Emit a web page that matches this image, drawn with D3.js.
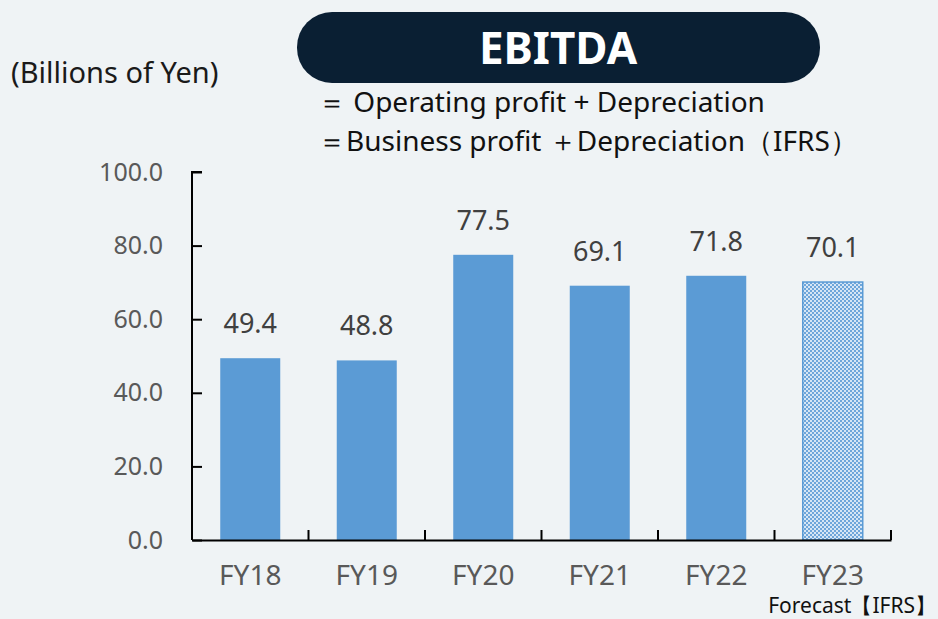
<!DOCTYPE html>
<html><head><meta charset="utf-8">
<script src="https://cdn.jsdelivr.net/npm/d3@7"></script>
<style>body{margin:0;background:#eff3f5;} svg{display:block;font-family:"Noto Sans","Open Sans",sans-serif;}</style>
</head><body>
<svg id="c" width="938" height="619"></svg>
<script>
const categories = ["FY18","FY19","FY20","FY21","FY22","FY23"];
const values = [49.4, 48.8, 77.5, 69.1, 71.8, 70.1];
const forecast = [false,false,false,false,false,true];
const yTicks = [0,20,40,60,80,100];

const svg = d3.select("#c");
svg.append("rect").attr("width",938).attr("height",619).attr("fill","#eff3f5");

const defs = svg.append("defs");
const pat = defs.append("pattern").attr("id","chk").attr("patternUnits","userSpaceOnUse").attr("width",4).attr("height",4);
pat.append("rect").attr("width",4).attr("height",4).attr("fill","#d6e6f5");
pat.append("rect").attr("width",2).attr("height",2).attr("fill","#6ea6da");
pat.append("rect").attr("x",2).attr("y",2).attr("width",2).attr("height",2).attr("fill","#6ea6da");

const x = d3.scaleBand().domain(categories).range([192,891]).paddingInner(0.485).paddingOuter(0.2425);
const y = d3.scaleLinear().domain([0,100]).range([540,172]);

// bars
svg.selectAll("rect.bar").data(categories).enter().append("rect")
  .attr("class","bar")
  .attr("x",d=>x(d)).attr("width",x.bandwidth())
  .attr("y",(d,i)=>y(values[i])).attr("height",(d,i)=>y(0)-y(values[i]))
  .attr("fill",(d,i)=>forecast[i]?"url(#chk)":"#5b9bd5")
  .attr("stroke",(d,i)=>forecast[i]?"#5b9bd5":"none")
  .attr("stroke-width",1.5);

// value labels
svg.selectAll("text.val").data(categories).enter().append("text")
  .attr("x",d=>x(d)+x.bandwidth()/2).attr("y",(d,i)=>y(values[i])-25)
  .attr("text-anchor","middle").attr("font-size",27).attr("fill","#404040")
  .text((d,i)=>values[i].toFixed(1));

// y axis
const ya = svg.append("g").attr("transform","translate(192,0)")
  .call(d3.axisLeft(y).tickValues(yTicks).tickSize(-10).tickPadding(29).tickFormat(d3.format(".1f")));
ya.selectAll(".tick line").attr("stroke","#000").attr("stroke-width",2);
ya.selectAll(".tick text").attr("font-size",25).attr("fill","#595959").attr("font-family","Noto Sans, sans-serif");
ya.select(".domain").attr("stroke","#000").attr("stroke-width",2).attr("d","M10,172H0V540");

// x axis
const xa = svg.append("g").attr("transform","translate(0,540)")
  .call(d3.axisBottom(x).tickSize(0).tickPadding(25));
xa.select(".domain").attr("stroke","#000").attr("stroke-width",2);
xa.selectAll(".tick text").attr("font-size",28).attr("fill","#595959").attr("font-family","Noto Sans, sans-serif");
const step = x.step();
const bounds = d3.range(1, categories.length+1).map(i => 192 + i*step);
xa.selectAll("line.bt").data(bounds).enter().append("line")
  .attr("x1",d=>d).attr("x2",d=>d).attr("y1",0).attr("y2",-10)
  .attr("stroke","#000").attr("stroke-width",2);

// unit
svg.append("text").attr("x",11).attr("y",83).attr("font-size",29).attr("fill","#1a1a1a").text("(Billions of Yen)");

// title pill
svg.append("rect").attr("x",297).attr("y",12).attr("width",523).attr("height",71).attr("rx",35).attr("fill","#0a1f33");
svg.append("text").attr("x",558).attr("y",64).attr("text-anchor","middle").attr("font-size",44).attr("font-weight","bold").attr("fill","#fff").text("EBITDA");

svg.append("text").attr("x",318).attr("y",112).attr("font-size",28).attr("fill","#111").text("＝ Operating profit + Depreciation");
svg.append("text").attr("x",318).attr("y",151).attr("font-size",28).attr("fill","#111").text("＝Business profit ＋Depreciation（IFRS）");

svg.append("text").attr("x",936).attr("y",613).attr("text-anchor","end").attr("font-size",21).attr("fill","#111").text("Forecast【IFRS】");
</script>
</body></html>
